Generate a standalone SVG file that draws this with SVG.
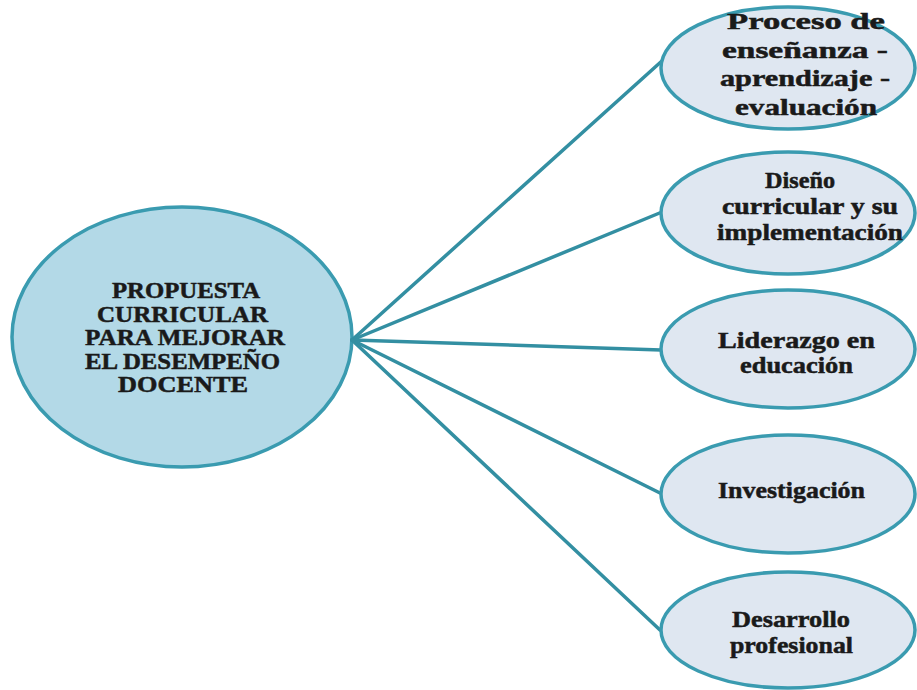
<svg xmlns="http://www.w3.org/2000/svg" width="917" height="690" viewBox="0 0 917 690">
<style>
.bg{fill:#ffffff}
.center{fill:#b3d9e7;stroke:#3a9bb0;stroke-width:3.5}
.leaf{fill:#dfe7f1;stroke:#3a9bb0;stroke-width:3.5}
.conn{stroke:#338fa2;stroke-width:3.5;fill:none;stroke-linecap:round}
.t{font-family:"Liberation Serif","Times New Roman",serif;font-weight:bold;fill:#1a1a1a;stroke:#1a1a1a;stroke-width:0.5}
.tc{font-size:22.5px}
.tl{font-size:23px}
</style>
<rect class="bg" x="0" y="0" width="917" height="690"/>
<g id="center">
<ellipse class="center" cx="182" cy="337" rx="170" ry="130"/>
<text class="t tc" x="112" y="298" textLength="148" lengthAdjust="spacingAndGlyphs">PROPUESTA</text>
<text class="t tc" x="97" y="321.5" textLength="171" lengthAdjust="spacingAndGlyphs">CURRICULAR</text>
<text class="t tc" x="85" y="345" textLength="200" lengthAdjust="spacingAndGlyphs">PARA MEJORAR</text>
<text class="t tc" x="85" y="368.5" textLength="195" lengthAdjust="spacingAndGlyphs">EL DESEMPEÑO</text>
<text class="t tc" x="118" y="392" textLength="130" lengthAdjust="spacingAndGlyphs">DOCENTE</text>
</g>
<g id="connectors">
<line class="conn" x1="352" y1="340" x2="663" y2="60"/>
<line class="conn" x1="352" y1="340" x2="662" y2="212"/>
<line class="conn" x1="352" y1="340" x2="661" y2="350"/>
<line class="conn" x1="352" y1="340" x2="660" y2="493"/>
<line class="conn" x1="352" y1="340" x2="660" y2="630"/>
</g>
<g id="n1">
<ellipse class="leaf" cx="788" cy="68" rx="127" ry="61"/>
<text class="t tl" x="727" y="29" textLength="158" lengthAdjust="spacingAndGlyphs">Proceso de</text>
<text class="t tl" x="722" y="58" textLength="166" lengthAdjust="spacingAndGlyphs">enseñanza -</text>
<text class="t tl" x="720" y="86" textLength="170" lengthAdjust="spacingAndGlyphs">aprendizaje -</text>
<text class="t tl" x="735" y="115" textLength="142" lengthAdjust="spacingAndGlyphs">evaluación</text>
</g>
<g id="n2">
<ellipse class="leaf" cx="788" cy="213" rx="127" ry="61"/>
<text class="t tl" x="765" y="188" textLength="70" lengthAdjust="spacingAndGlyphs">Diseño</text>
<text class="t tl" x="722" y="214" textLength="176" lengthAdjust="spacingAndGlyphs">curricular y su</text>
<text class="t tl" x="717" y="240" textLength="186" lengthAdjust="spacingAndGlyphs">implementación</text>
</g>
<g id="n3">
<ellipse class="leaf" cx="788" cy="349" rx="127" ry="59"/>
<text class="t tl" x="718" y="348" textLength="157" lengthAdjust="spacingAndGlyphs">Liderazgo en</text>
<text class="t tl" x="740" y="373" textLength="113" lengthAdjust="spacingAndGlyphs">educación</text>
</g>
<g id="n4">
<ellipse class="leaf" cx="788" cy="494" rx="127" ry="59"/>
<text class="t tl" x="718" y="498" textLength="147" lengthAdjust="spacingAndGlyphs">Investigación</text>
</g>
<g id="n5">
<ellipse class="leaf" cx="788" cy="630" rx="127" ry="58"/>
<text class="t tl" x="732" y="627" textLength="118" lengthAdjust="spacingAndGlyphs">Desarrollo</text>
<text class="t tl" x="730" y="653" textLength="123" lengthAdjust="spacingAndGlyphs">profesional</text>
</g>
</svg>
